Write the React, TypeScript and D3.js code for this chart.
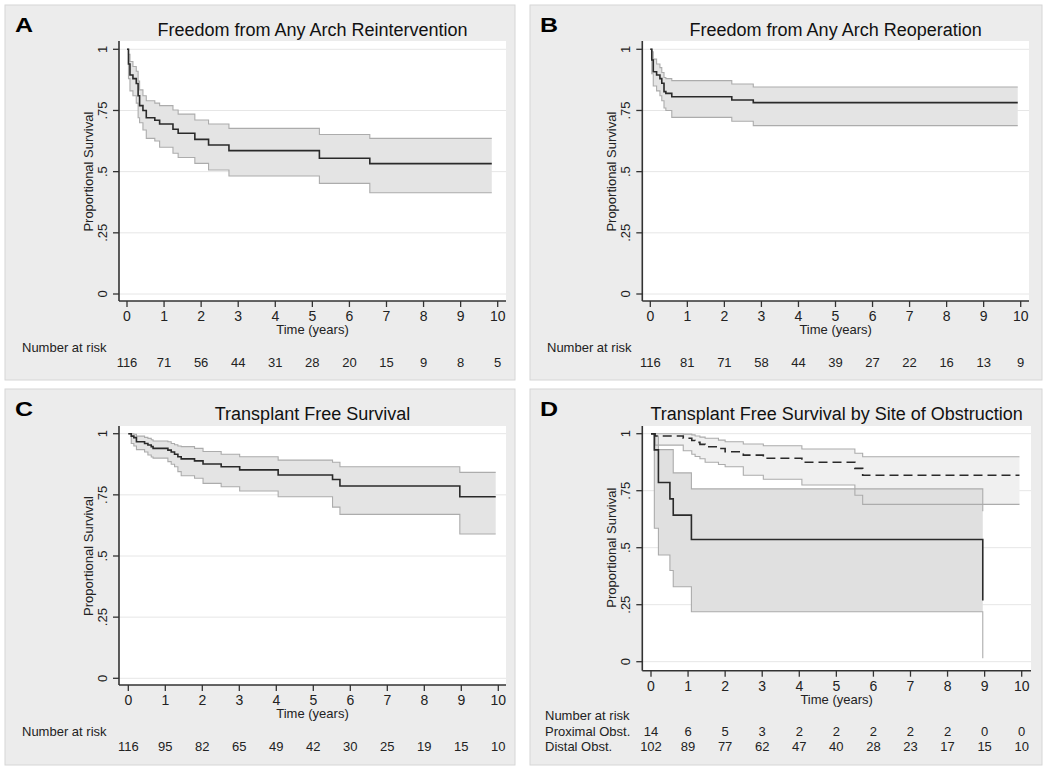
import React from 'react';
import * as d3 from 'd3';

// ---------- data ----------
const timeTicks = [0, 1, 2, 3, 4, 5, 6, 7, 8, 9, 10];
const survTicks = [0, 0.25, 0.5, 0.75, 1];
const survTickLabels = ['0', '.25', '.5', '.75', '1'];

// Panel A: Freedom from any arch reintervention
const aTimes = [0, 0.04, 0.08, 0.16, 0.25, 0.30, 0.34, 0.43, 0.52, 0.75, 0.88, 1.24, 1.38, 1.83, 2.2, 2.75, 5.19, 6.55];
const aSurv = [1, 0.94, 0.895, 0.88, 0.86, 0.81, 0.77, 0.75, 0.72, 0.71, 0.695, 0.673, 0.657, 0.632, 0.609, 0.586, 0.555, 0.533];
const aUpper = [1, 0.98, 0.95, 0.93, 0.91, 0.87, 0.834, 0.81, 0.79, 0.78, 0.77, 0.752, 0.735, 0.711, 0.695, 0.677, 0.652, 0.636];
const aLower = [1, 0.88, 0.83, 0.81, 0.78, 0.72, 0.70, 0.67, 0.636, 0.625, 0.60, 0.575, 0.558, 0.534, 0.507, 0.482, 0.452, 0.414];
const aEnd = 9.84;
const aAtRisk = [116, 71, 56, 44, 31, 28, 20, 15, 9, 8, 5];

// Panel B: Freedom from any arch reoperation
const bTimes = [0, 0.04, 0.08, 0.17, 0.26, 0.31, 0.37, 0.42, 0.58, 2.2, 2.78];
const bSurv = [1, 0.956, 0.908, 0.895, 0.88, 0.861, 0.827, 0.82, 0.806, 0.793, 0.782];
const bUpper = [1, 0.99, 0.96, 0.94, 0.925, 0.905, 0.885, 0.88, 0.872, 0.858, 0.846];
const bLower = [1, 0.90, 0.85, 0.83, 0.81, 0.79, 0.76, 0.75, 0.722, 0.706, 0.688];
const bEnd = 9.92;
const bAtRisk = [116, 81, 71, 58, 44, 39, 27, 22, 16, 13, 9];

// Panel C: Transplant free survival
const cTimes = [0, 0.08, 0.15, 0.22, 0.44, 0.53, 0.62, 0.67, 1.07, 1.16, 1.25, 1.34, 1.43, 1.79, 2.02, 2.51, 3.01, 4.05, 5.52, 5.72, 8.96];
const cSurv = [1, 0.99, 0.984, 0.967, 0.96, 0.954, 0.947, 0.94, 0.933, 0.925, 0.916, 0.906, 0.897, 0.889, 0.876, 0.865, 0.852, 0.831, 0.813, 0.786, 0.742];
const cUpper = [1, 1, 0.998, 0.99, 0.985, 0.981, 0.975, 0.97, 0.967, 0.96, 0.955, 0.95, 0.947, 0.94, 0.927, 0.916, 0.906, 0.892, 0.883, 0.865, 0.842];
const cLower = [1, 0.96, 0.95, 0.935, 0.925, 0.913, 0.905, 0.90, 0.886, 0.875, 0.865, 0.845, 0.828, 0.818, 0.797, 0.783, 0.766, 0.742, 0.70, 0.67, 0.59];
const cEnd = 9.93;
const cAtRisk = [116, 95, 82, 65, 49, 42, 30, 25, 19, 15, 10];

// Panel D: by site of obstruction
const dProxTimes = [0, 0.09, 0.2, 0.51, 0.6, 1.09, 8.95];
const dProxSurv = [1, 0.929, 0.786, 0.714, 0.643, 0.536, 0.268];
const dProxUpper = [1, 0.99, 0.93, 0.93, 0.828, 0.758, 0.66];
const dProxLower = [1, 0.585, 0.468, 0.40, 0.329, 0.219, 0.015];
const dProxEnd = 8.95;
const dDistTimes = [0, 0.11, 0.87, 1.1, 1.19, 1.32, 1.46, 1.82, 2.0, 2.49, 3.03, 4.07, 5.5, 5.71];
const dDistSurv = [1, 0.99, 0.98, 0.97, 0.962, 0.953, 0.943, 0.935, 0.921, 0.906, 0.892, 0.875, 0.848, 0.818];
const dDistUpper = [1, 1, 0.998, 0.995, 0.99, 0.985, 0.98, 0.972, 0.965, 0.955, 0.947, 0.933, 0.914, 0.899];
const dDistLower = [1, 0.95, 0.925, 0.91, 0.9, 0.89, 0.875, 0.865, 0.855, 0.818, 0.80, 0.775, 0.73, 0.69];
const dDistEnd = 9.94;
const dProxAtRisk = [14, 6, 5, 3, 2, 2, 2, 2, 2, 0, 0];
const dDistAtRisk = [102, 89, 77, 62, 47, 40, 28, 23, 17, 15, 10];

// ---------- helpers ----------
type Pt = { t: number; s: number; u: number; l: number };
function toPoints(times: number[], surv: number[], upper: number[], lower: number[], end: number): Pt[] {
  const pts = times.map((t, i) => ({ t, s: surv[i], u: upper[i], l: lower[i] }));
  const last = pts[pts.length - 1];
  pts.push({ t: end, s: last.s, u: last.u, l: last.l });
  return pts;
}

type CurveDef = { pts: Pt[]; dashed?: boolean; fill: string };
type RowDef = { label?: string; values: number[] };

type PanelDef = {
  letter: string;
  title: string;
  bx: number; by: number; bw: number; bh: number;
  plotL: number; plotR: number; plotT: number; axisY: number;
  x0: number; x10: number; y1: number; y0: number;
  curves: CurveDef[];
  rows: RowDef[];
};

const FONT = '"Liberation Sans", Arial, Helvetica, sans-serif';

const panels: PanelDef[] = [
  {
    letter: 'A', title: 'Freedom from Any Arch Reintervention',
    bx: 5, by: 5, bw: 510, bh: 375,
    plotL: 119, plotR: 506, plotT: 41, axisY: 301,
    x0: 127, x10: 497.7, y1: 49.3, y0: 294,
    curves: [{ pts: toPoints(aTimes, aSurv, aUpper, aLower, aEnd), fill: '#e4e4e4' }],
    rows: [{ values: aAtRisk }],
  },
  {
    letter: 'B', title: 'Freedom from Any Arch Reoperation',
    bx: 530, by: 5, bw: 512, bh: 375,
    plotL: 642.3, plotR: 1029, plotT: 41, axisY: 301,
    x0: 650.3, x10: 1020.7, y1: 49.3, y0: 294,
    curves: [{ pts: toPoints(bTimes, bSurv, bUpper, bLower, bEnd), fill: '#e4e4e4' }],
    rows: [{ values: bAtRisk }],
  },
  {
    letter: 'C', title: 'Transplant Free Survival',
    bx: 5, by: 389, bw: 510, bh: 376,
    plotL: 119, plotR: 506, plotT: 426, axisY: 685,
    x0: 128.3, x10: 498.3, y1: 433.7, y0: 678.3,
    curves: [{ pts: toPoints(cTimes, cSurv, cUpper, cLower, cEnd), fill: '#e4e4e4' }],
    rows: [{ values: cAtRisk }],
  },
  {
    letter: 'D', title: 'Transplant Free Survival by Site of Obstruction',
    bx: 530, by: 389, bw: 512, bh: 376,
    plotL: 642.3, plotR: 1031, plotT: 426, axisY: 670.7,
    x0: 651, x10: 1021.7, y1: 433.7, y0: 661.7,
    curves: [
      { pts: toPoints(dDistTimes, dDistSurv, dDistUpper, dDistLower, dDistEnd), fill: '#f0f0f0', dashed: true },
      { pts: toPoints(dProxTimes, dProxSurv, dProxUpper, dProxLower, dProxEnd), fill: '#e0e0e0' },
    ],
    rows: [
      { label: 'Proximal Obst.', values: dProxAtRisk },
      { label: 'Distal Obst.', values: dDistAtRisk },
    ],
  },
];

function Panel({ p }: { p: PanelDef }) {
  const x = d3.scaleLinear().domain([0, 10]).range([p.x0, p.x10]);
  const y = d3.scaleLinear().domain([0, 1]).range([p.y0, p.y1]);
  const area = d3.area<Pt>().curve(d3.curveStepAfter).x(d => x(d.t)).y0(d => y(d.l)).y1(d => y(d.u));
  const lineS = d3.line<Pt>().curve(d3.curveStepAfter).x(d => x(d.t)).y(d => y(d.s));
  const lineU = d3.line<Pt>().curve(d3.curveStepAfter).x(d => x(d.t)).y(d => y(d.u));
  const lineL = d3.line<Pt>().curve(d3.curveStepAfter).x(d => x(d.t)).y(d => y(d.l));
  const cx = (p.plotL + p.plotR) / 2;
  const midY = (p.y0 + p.y1) / 2;
  const nar = p.rows.length > 1;
  const lx = p.bx + 10;
  const ly = p.by + 27;
  return (
    <g>
      <rect x={p.bx} y={p.by} width={p.bw} height={p.bh} fill="#ececec" stroke="#d6d6d6" strokeWidth={1} />
      <text x={0} y={0} fontFamily={FONT} fontWeight={900} fontSize={20}
        transform={`translate(${lx},${ly}) scale(1.25,1)`}>{p.letter}</text>
      <text x={cx} y={p.by + 30.5} textAnchor="middle" fontFamily={FONT} fontSize={18} fill="#111">{p.title}</text>
      <rect x={p.plotL} y={p.plotT} width={p.plotR - p.plotL} height={p.axisY - p.plotT} fill="#ffffff" />
      {survTicks.map(v => (
        <line key={'g' + v} x1={p.plotL} x2={p.plotR} y1={y(v)} y2={y(v)} stroke="#e6e6e6" strokeWidth={1} />
      ))}
      {p.curves.map((c, i) => (
        <path key={'ci' + i} d={area(c.pts) || ''} fill={c.fill} stroke="none" />
      ))}
      {p.curves.map((c, i) => (
        <g key={'cil' + i}>
          <path d={lineU(c.pts) || ''} fill="none" stroke="#acacac" strokeWidth={1.1} />
          <path d={lineL(c.pts) || ''} fill="none" stroke="#acacac" strokeWidth={1.1} />
        </g>
      ))}
      {p.curves.map((c, i) => (
        <path key={'s' + i} d={lineS(c.pts) || ''} fill="none" stroke="#2a2a2a" strokeWidth={1.6}
          strokeDasharray={c.dashed ? '9,5' : undefined} />
      ))}
      {/* y axis */}
      <line x1={p.plotL} x2={p.plotL} y1={p.plotT} y2={p.axisY} stroke="#333" strokeWidth={1.6} />
      {survTicks.map((v, i) => (
        <g key={'yt' + v}>
          <line x1={p.plotL - 6} x2={p.plotL} y1={y(v)} y2={y(v)} stroke="#333" strokeWidth={1.3} />
          <text transform={`translate(${p.plotL - 12},${y(v)}) rotate(-90)`} textAnchor="middle"
            fontFamily={FONT} fontSize={13} fill="#222">{survTickLabels[i]}</text>
        </g>
      ))}
      <text transform={`translate(${p.plotL - 26},${midY}) rotate(-90)`} textAnchor="middle"
        fontFamily={FONT} fontSize={13} fill="#222">Proportional Survival</text>
      {/* x axis */}
      <line x1={p.plotL} x2={p.plotR} y1={p.axisY} y2={p.axisY} stroke="#333" strokeWidth={1.6} />
      {timeTicks.map(t => (
        <g key={'xt' + t}>
          <line x1={x(t)} x2={x(t)} y1={p.axisY} y2={p.axisY + 6} stroke="#333" strokeWidth={1.3} />
          <text x={x(t)} y={p.axisY + 20} textAnchor="middle" fontFamily={FONT} fontSize={14} fill="#222">{t}</text>
        </g>
      ))}
      <text x={cx} y={p.axisY + 33} textAnchor="middle" fontFamily={FONT} fontSize={13} fill="#222">Time (years)</text>
      <text x={p.bx + (nar ? 15 : 17)} y={p.axisY + (nar ? 49 : 51)} fontFamily={FONT} fontSize={13} fill="#222">Number at risk</text>
      {p.rows.map((r, ri) => (
        <g key={'row' + ri}>
          {r.label && (
            <text x={p.bx + 15} y={p.axisY + 65 + ri * 15} fontFamily={FONT} fontSize={13} fill="#222">{r.label}</text>
          )}
          {r.values.map((v, i) => (
            <text key={i} x={x(timeTicks[i])} y={p.axisY + (nar ? 65 + ri * 15 : 66)} textAnchor="middle"
              fontFamily={FONT} fontSize={13} fill="#222">{v}</text>
          ))}
        </g>
      ))}
    </g>
  );
}

export default function App() {
  return (
    <svg width={1050} height={772} viewBox="0 0 1050 772"
      style={{ position: 'absolute', left: 0, top: 0, background: '#ffffff' }}>
      <rect x={0} y={0} width={1050} height={772} fill="#ffffff" />
      {panels.map(p => <Panel key={p.letter} p={p} />)}
    </svg>
  );
}
